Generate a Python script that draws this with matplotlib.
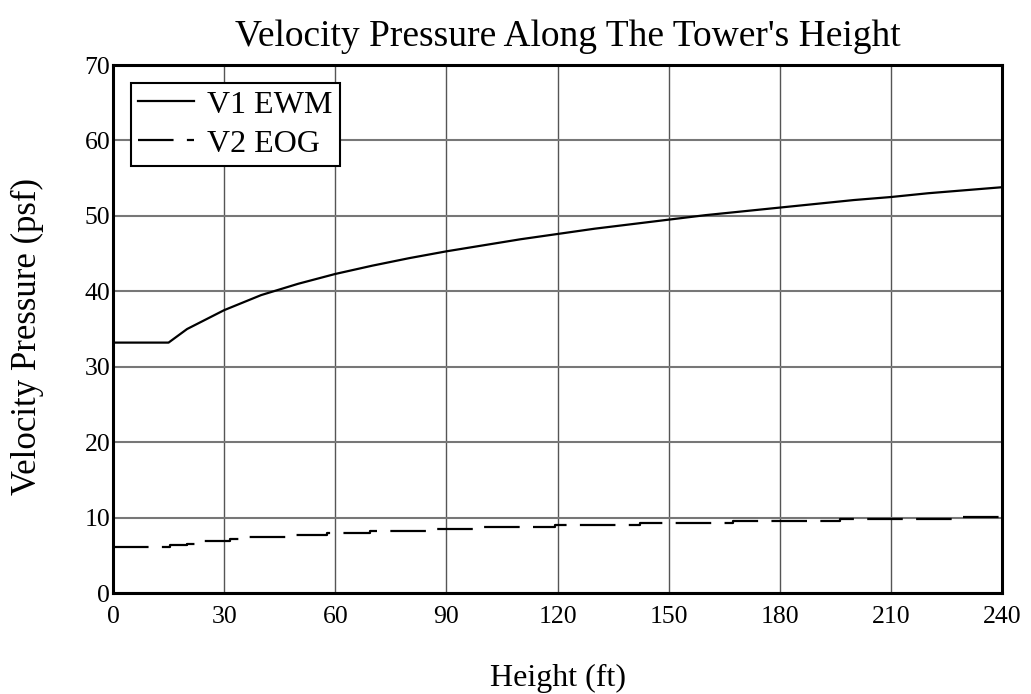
import matplotlib.pyplot as plt

plt.rcParams['font.family'] = ['Liberation Serif', 'DejaVu Serif']

# V1 EWM velocity pressure (psf) vs height (ft)
h_ewm = [0, 15, 20, 30, 40, 50, 60, 70, 80, 90, 100, 110, 120, 130, 140,
         150, 160, 170, 180, 190, 200, 210, 220, 230, 240]
q_ewm = [33.2, 33.2, 35.0, 37.5, 39.5, 41.0, 42.3, 43.4, 44.4, 45.3, 46.1,
         46.9, 47.6, 48.3, 48.9, 49.5, 50.1, 50.6, 51.1, 51.6, 52.1, 52.5,
         53.0, 53.4, 53.8]

# V2 EOG velocity pressure, stepped values
h_eog = [0, 15.4, 19.9, 23.5, 31.6, 36.0, 48.7, 57.7, 69.4, 84.6, 100.0,
         119.3, 142.2, 167.4, 196.3, 229.5, 240]
q_eog = [6.10, 6.33, 6.55, 6.86, 7.17, 7.43, 7.70, 7.96, 8.18, 8.49, 8.75,
         8.98, 9.28, 9.55, 9.81, 10.08, 10.08]

x_ticks = [0, 30, 60, 90, 120, 150, 180, 210, 240]
y_ticks = [0, 10, 20, 30, 40, 50, 60, 70]

fig = plt.figure(figsize=(10.31, 6.94), dpi=100)
ax = fig.add_axes([0.1096, 0.1455, 0.8623, 0.7608])

ax.plot(h_ewm, q_ewm, color='black', lw=1.6, label='V1 EWM')
ax.plot(h_eog, q_eog, color='black', lw=1.6, drawstyle='steps-post',
        dashes=(16, 6), label='V2 EOG')

ax.set_xlim(0, 240)
ax.set_ylim(0, 70)
ax.set_xticks(x_ticks)
ax.set_yticks(y_ticks)
ax.tick_params(length=0, labelsize=18.5)
ax.tick_params(axis='x', pad=9)
ax.tick_params(axis='y', pad=2)

ax.xaxis.grid(True, color='#555555', lw=1.0)
ax.yaxis.grid(True, color='#777777', lw=1.5)
for s in ax.spines.values():
    s.set_linewidth(2.2)

ax.set_title("Velocity Pressure Along The Tower's Height", fontsize=27,
             pad=14, x=0.512)
ax.set_xlabel('Height (ft)', fontsize=23, labelpad=26)
ax.set_ylabel('Velocity Pressure (psf)', fontsize=25)
ax.yaxis.set_label_coords(-0.078, 0.485)

leg = ax.legend(loc='upper left', fontsize=23, fancybox=False, framealpha=1,
                edgecolor='black', borderpad=0.24, handlelength=1.75,
                labelspacing=0.3, borderaxespad=0.55, handletextpad=0.4)
leg.get_frame().set_linewidth(1.5)

fig.savefig('out.png', dpi=100)
